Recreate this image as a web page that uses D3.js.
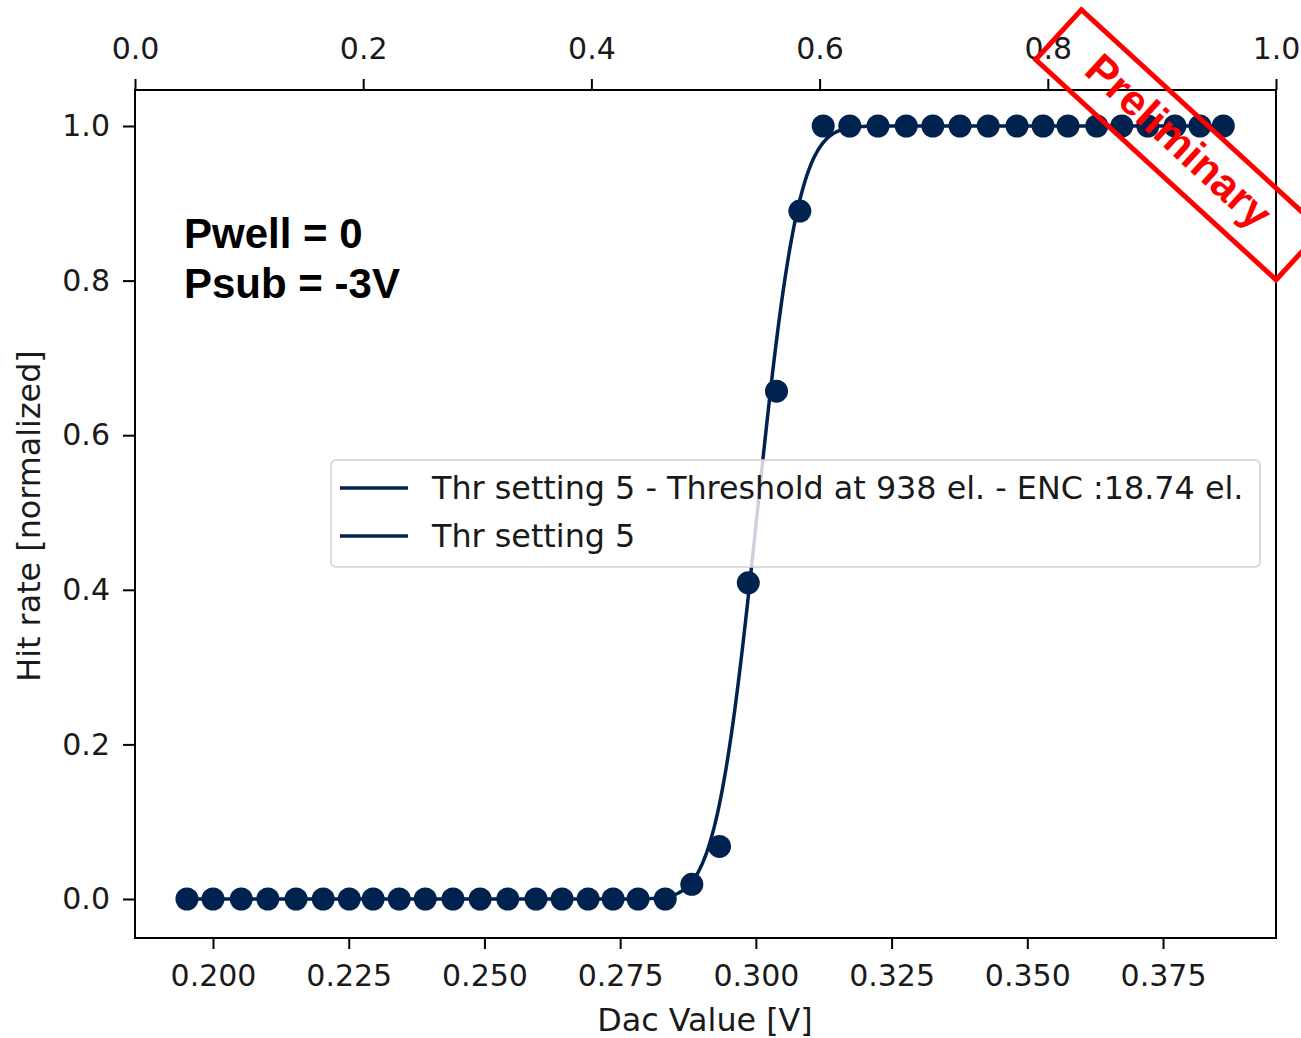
<!DOCTYPE html>
<html>
<head>
<meta charset="utf-8">
<script src="https://cdn.jsdelivr.net/npm/d3@7/dist/d3.min.js"></script>
<style>
  html, body { margin: 0; padding: 0; background: #ffffff; }
  svg { display: block; }
</style>
</head>
<body>
<svg id="chart" width="1301" height="1038"></svg>
<script>
// Measured DAC scan: injected DAC voltage [V] and normalized hit rate
const dacValues = [
  0.1952, 0.2000, 0.2052, 0.2101, 0.2153, 0.2203, 0.2251, 0.2295, 0.2343, 0.2391,
  0.2442, 0.2492, 0.2543, 0.2595, 0.2643, 0.2691, 0.2737, 0.2783, 0.2833,
  0.2882, 0.2933, 0.2986, 0.3038, 0.3081,
  0.3124, 0.3173, 0.3225, 0.3277, 0.3326, 0.3376, 0.3428, 0.3481, 0.3529, 0.3575,
  0.3628, 0.3674, 0.3722, 0.3772, 0.3818, 0.3861
];
const hitRates = [
  0, 0, 0, 0, 0, 0, 0, 0, 0, 0,
  0, 0, 0, 0, 0, 0, 0, 0, 0,
  0.019, 0.068, 0.409, 0.657, 0.890,
  1, 1, 1, 1, 1, 1, 1, 1, 1, 1,
  1, 1, 1, 1, 1, 1
];

// S-curve fit result (electrons) and DAC calibration
const thresholdEl = 938;
const encEl = 18.74;
const electronsPerVolt = 3124;

const xTickValues = [0.200, 0.225, 0.250, 0.275, 0.300, 0.325, 0.350, 0.375];
const yTickValues = [0.0, 0.2, 0.4, 0.6, 0.8, 1.0];
const topTickValues = [0.0, 0.2, 0.4, 0.6, 0.8, 1.0];

const legendLabels = [
  "Thr setting 5 - Threshold at 938 el. - ENC :18.74 el.",
  "Thr setting 5"
];
const annotationLines = ["Pwell = 0", "Psub = -3V"];
const stampText = "Preliminary";

// ---- layout ----
const plot = { left: 135, right: 1276, top: 90, bottom: 938 };
const navy = "#00224e";
const tickFont = "'DejaVu Sans', sans-serif";
const tickSize = 30;
const labelSize = 31.8;

const svg = d3.select("#chart");

const x = d3.scaleLinear().domain([0.18563, 0.39581]).range([plot.left, plot.right]);
const y = d3.scaleLinear().domain([0, 1]).range([899, 126]);
const xTop = d3.scaleLinear().domain([0, 1]).range([plot.left, plot.right]);

// Gaussian error function (Abramowitz & Stegun 7.1.26)
function erf(v) {
  const s = v < 0 ? -1 : 1;
  const a = Math.abs(v);
  const t = 1 / (1 + 0.3275911 * a);
  const poly = ((((1.061405429 * t - 1.453152027) * t + 1.421413741) * t - 0.284496736) * t + 0.254829592) * t;
  return s * (1 - poly * Math.exp(-a * a));
}
const mu = thresholdEl / electronsPerVolt;
const sigma = encEl / electronsPerVolt;
const sCurve = v => 0.5 * (1 + erf((v - mu) / (Math.SQRT2 * sigma)));

// ---- fitted curve ----
const xMin = d3.min(dacValues), xMax = d3.max(dacValues);
const curveXs = d3.range(0, 601).map(i => xMin + (xMax - xMin) * i / 600);
const line = d3.line().x(d => x(d)).y(d => y(sCurve(d)));

svg.append("path")
  .datum(curveXs)
  .attr("d", line)
  .attr("fill", "none")
  .attr("stroke", navy)
  .attr("stroke-width", 3.5);

// ---- measured points ----
svg.append("g")
  .selectAll("circle")
  .data(dacValues.map((d, i) => [d, hitRates[i]]))
  .join("circle")
  .attr("cx", d => x(d[0]))
  .attr("cy", d => y(d[1]))
  .attr("r", 11.5)
  .attr("fill", navy);

// ---- axes ----
function styleAxis(g) {
  g.select(".domain").remove();
  g.selectAll(".tick line").attr("stroke", "#000").attr("stroke-width", 2);
  g.selectAll(".tick text")
    .attr("fill", "#1a1a1a")
    .style("font-family", tickFont)
    .style("font-size", tickSize + "px");
}

svg.append("g")
  .attr("transform", `translate(0,${plot.bottom})`)
  .call(d3.axisBottom(x).tickValues(xTickValues).tickFormat(d3.format(".3f")).tickSize(11).tickPadding(16))
  .call(styleAxis);

svg.append("g")
  .attr("transform", `translate(${plot.left},0)`)
  .call(d3.axisLeft(y).tickValues(yTickValues).tickFormat(d3.format(".1f")).tickSize(12).tickPadding(13))
  .call(styleAxis);

svg.append("g")
  .attr("transform", `translate(0,${plot.top})`)
  .call(d3.axisTop(xTop).tickValues(topTickValues).tickFormat(d3.format(".1f")).tickSize(11).tickPadding(20))
  .call(styleAxis);

// frame
svg.append("rect")
  .attr("x", plot.left).attr("y", plot.top)
  .attr("width", plot.right - plot.left).attr("height", plot.bottom - plot.top)
  .attr("fill", "none").attr("stroke", "#000").attr("stroke-width", 2);

// axis titles
svg.append("text")
  .attr("x", 705).attr("y", 1031)
  .attr("text-anchor", "middle")
  .attr("fill", "#1a1a1a")
  .style("font-family", tickFont).style("font-size", labelSize + "px")
  .text("Dac Value [V]");

svg.append("text")
  .attr("transform", `translate(40,516) rotate(-90)`)
  .attr("text-anchor", "middle")
  .attr("fill", "#1a1a1a")
  .style("font-family", tickFont).style("font-size", labelSize + "px")
  .text("Hit rate [normalized]");

// ---- legend ----
const legend = svg.append("g");
legend.append("rect")
  .attr("x", 331).attr("y", 460).attr("width", 929).attr("height", 107)
  .attr("rx", 5).attr("ry", 5)
  .attr("fill", "#ffffff").attr("fill-opacity", 0.8)
  .attr("stroke", "#d0d0d0").attr("stroke-width", 1.5);
legendLabels.forEach((label, i) => {
  const ly = 488 + i * 48;
  legend.append("line")
    .attr("x1", 340).attr("x2", 408).attr("y1", ly).attr("y2", ly)
    .attr("stroke", navy).attr("stroke-width", 3.5);
  legend.append("text")
    .attr("x", 432).attr("y", ly + 11)
    .attr("fill", "#1a1a1a")
    .style("font-family", tickFont).style("font-size", labelSize + "px")
    .text(label);
});

// ---- operating conditions ----
annotationLines.forEach((t, i) => {
  svg.append("text")
    .attr("x", 184).attr("y", 248 + i * 50)
    .attr("fill", "#000")
    .style("font-family", "'Liberation Sans', Arial, sans-serif")
    .style("font-weight", "bold")
    .style("font-size", "42px")
    .text(t);
});

// ---- preliminary stamp ----
const stamp = svg.append("g")
  .attr("transform", "translate(1056.7,33) rotate(42.5)");
stamp.append("rect")
  .attr("x", 2.5).attr("y", -33.8)
  .attr("width", 326).attr("height", 67.6)
  .attr("fill", "none").attr("stroke", "#ff0000").attr("stroke-width", 5);
stamp.append("text")
  .attr("x", 163).attr("y", -3)
  .attr("text-anchor", "middle")
  .attr("dominant-baseline", "central")
  .attr("fill", "#ff0000")
  .style("font-family", "'Liberation Sans', Arial, sans-serif")
  .style("font-weight", "bold")
  .style("font-size", "43px")
  .text(stampText);
</script>
</body>
</html>
